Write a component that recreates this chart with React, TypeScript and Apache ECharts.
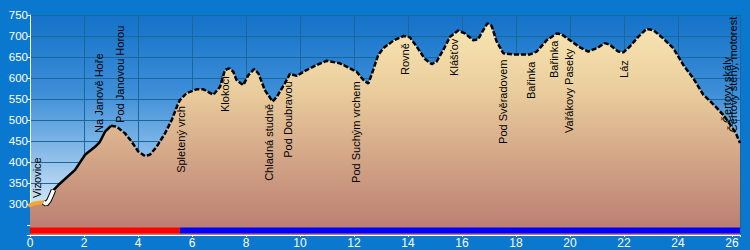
import React, { useEffect, useRef } from "react";
import * as echarts from "echarts";

// Profile: distance (km) and elevation (m)
const profileKm = [
  0, 0.15, 0.35, 0.5, 0.6, 0.7, 0.8, 0.87, 1.05, 1.67, 2.04, 2.41, 2.59, 2.78, 3.0, 3.21, 3.52, 3.77,
  4.01, 4.26, 4.44, 4.69, 5.0, 5.25, 5.49, 5.56, 5.8, 6.17, 6.42, 6.79, 7.04, 7.22, 7.38, 7.53, 7.65,
  7.9, 8.09, 8.3, 8.46, 8.7, 8.99, 9.14, 9.44, 9.63, 9.88, 10.25, 10.62, 10.99, 11.48, 11.85, 12.1,
  12.35, 12.53, 12.65, 12.9, 13.09, 13.46, 13.83, 14.07, 14.32, 14.63, 14.88, 15.06, 15.31, 15.56,
  15.86, 16.11, 16.42, 16.6, 16.79, 16.94, 17.1, 17.28, 17.53, 17.9, 18.52, 18.77, 19.14, 19.51,
  19.69, 20.0, 20.37, 20.68, 20.99, 21.3, 21.48, 21.79, 21.98, 22.22, 22.53, 22.84, 23.09, 23.46,
  23.83, 24.2, 24.57, 24.94, 25.19, 25.45, 25.68, 25.93, 26.15, 26.3,
];
const profileElev = [
  297, 301, 303, 304, 300, 308, 322, 333, 345, 381, 417, 436, 448, 472, 486, 484, 468, 448,
  425, 414, 417, 436, 468, 500, 540, 548, 564, 573, 573, 560, 579, 619, 623, 615, 595,
  583, 607, 621, 611, 571, 544, 555, 587, 610, 605, 619, 631, 641, 635, 623, 615,
  595, 587, 607, 655, 671, 689, 700, 697, 675, 645, 633, 639, 667, 698,
  713, 706, 690, 692, 714, 730, 724, 688, 659, 656, 656, 663, 690, 706,
  704, 690, 673, 663, 671, 683, 679, 663, 661, 675, 698, 717, 714, 694,
  671, 631, 599, 560, 545, 528, 512, 490, 468, 445,
];

// Highlighted start segments
const orangeKm = [0, 0.15, 0.35, 0.5];
const orangeElev = [297, 301, 303, 304];
const whiteKm = [0.5, 0.6, 0.7, 0.8, 0.87];
const whiteElev = [304, 300, 308, 322, 333];
const solidEndKm = 3.0;

// Waypoint labels: name, km, elevation where the text starts
const wpNames = [
  "Vizovice", "Na Janově Hoře", "Pod Janovou Horou", "Spletený vrch", "Klokočí",
  "Chladná studně", "Pod Doubravou", "Pod Suchým vrchem", "Rovně", "Klášťov",
  "Pod Svěradovem", "Bařinka", "Bařinka", "Vařákovy Paseky", "Láz",
  "Čertovy skály", "Čertovy stěny, motorest",
];
const wpKm = [
  0.26, 2.56, 3.33, 5.59, 7.22, 8.85, 9.56, 12.07, 13.89, 15.7, 17.52, 18.56, 19.41, 19.96, 22.0,
  25.82, 26.04,
];
const wpElev = [
  314, 469, 493, 374, 519, 355, 410, 350, 607, 605, 443, 550, 600, 469, 600, 493, 471,
];

// Surface strip
const stripElev = 237;
const redRange = [0, 5.55];
const blueRange = [5.55, 26.3];

const xTicks = { min: 0, max: 26.3, interval: 2 };
const yRange = { min: 226, max: 750 };

export default function App() {
  const ref = useRef<HTMLDivElement>(null);
  useEffect(() => {
    document.body.style.margin = "0";
    if (!ref.current) return;
    const chart = echarts.init(ref.current, undefined, { renderer: "svg" });
    const profile = profileKm.map((k, i) => [k, profileElev[i]]);
    const solidPart = profile.filter((p) => p[0] >= 0.8 && p[0] <= solidEndKm);
    const dashedPart = profile.filter((p) => p[0] >= solidEndKm);
    const labels = wpKm.map((k, i) => [k, wpElev[i], wpNames[i]]);
    chart.setOption({
      animation: false,
      backgroundColor: "#0b78d0",
      grid: {
        left: 30,
        right: 10,
        top: 15,
        bottom: 15,
        show: true,
        borderWidth: 0,
        backgroundColor: new echarts.graphic.LinearGradient(0, 0, 0, 1, [
          { offset: 0, color: "#1472c8" },
          { offset: 0.35, color: "#3d8ed8" },
          { offset: 0.65, color: "#8fbfea" },
          { offset: 0.88, color: "#d8e8f6" },
          { offset: 1, color: "#eef5fb" },
        ]),
      },
      xAxis: {
        type: "value",
        min: xTicks.min,
        max: xTicks.max,
        interval: xTicks.interval,
        axisLine: { show: true, lineStyle: { color: "#ffffff", width: 1 } },
        axisTick: { show: true, length: 2, lineStyle: { color: "#ffffff" } },
        axisLabel: {
          color: "#ffffff",
          fontSize: 12,
          fontFamily: "Arial, Liberation Sans",
          margin: 2,
          formatter: (v: number) => (Math.abs(v % 2) < 1e-9 ? String(v) : ""),
        },
        splitLine: { show: true, lineStyle: { color: "#1a689a", width: 1 } },
      },
      yAxis: {
        type: "value",
        min: yRange.min,
        max: yRange.max,
        splitNumber: 10,
        axisLine: { show: true, lineStyle: { color: "#ffffff", width: 1 } },
        axisTick: { show: true, length: 3, lineStyle: { color: "#ffffff" } },
        axisLabel: {
          color: "#ffffff",
          fontSize: 11.5,
          fontFamily: "Arial, Liberation Sans",
          margin: 2,
          formatter: (v: number) => (v >= 300 ? String(v) : ""),
        },
        splitLine: { show: true, lineStyle: { color: "#1a689a", width: 1 } },
      },
      series: [
        {
          type: "line",
          data: profile,
          showSymbol: false,
          symbol: "none",
          lineStyle: { width: 0 },
          areaStyle: {
            opacity: 1,
            color: new echarts.graphic.LinearGradient(0, 0, 0, 1, [
              { offset: 0, color: "#f8e6b2" },
              { offset: 0.3, color: "#ebcf9e" },
              { offset: 0.65, color: "#d2a486" },
              { offset: 1, color: "#b97b70" },
            ]),
          },
          z: 2,
        },
        {
          type: "line",
          data: solidPart,
          showSymbol: false,
          symbol: "none",
          lineStyle: { color: "#000000", width: 2.5 },
          z: 3,
        },
        {
          type: "line",
          data: dashedPart,
          showSymbol: false,
          symbol: "none",
          lineStyle: { color: "#000000", width: 2.5, type: [5, 2] },
          z: 3,
        },
        {
          type: "line",
          data: orangeKm.map((k, i) => [k, orangeElev[i]]),
          showSymbol: false,
          symbol: "none",
          lineStyle: { color: "#f0a830", width: 4, cap: "round" },
          z: 4,
        },
        {
          type: "line",
          data: whiteKm.map((k, i) => [k, whiteElev[i]]),
          showSymbol: false,
          symbol: "none",
          lineStyle: { color: "#000000", width: 5.5 },
          z: 4,
        },
        {
          type: "line",
          data: whiteKm.map((k, i) => [k, whiteElev[i]]),
          showSymbol: false,
          symbol: "none",
          lineStyle: { color: "#ffffff", width: 3.5 },
          z: 5,
        },
        {
          type: "line",
          data: [[redRange[0], stripElev], [redRange[1], stripElev]],
          showSymbol: false,
          symbol: "none",
          lineStyle: { color: "#ff0000", width: 6 },
          z: 6,
        },
        {
          type: "line",
          data: [[blueRange[0], stripElev], [blueRange[1], stripElev]],
          showSymbol: false,
          symbol: "none",
          lineStyle: { color: "#0000ff", width: 6 },
          z: 6,
        },
        {
          type: "custom",
          data: labels,
          z: 7,
          renderItem: (params: any, api: any) => {
            const p = api.coord([api.value(0), api.value(1)]);
            return {
              type: "text",
              x: p[0],
              y: p[1],
              rotation: Math.PI / 2,
              style: {
                text: wpNames[params.dataIndex],
                align: "left",
                verticalAlign: "middle",
                fill: "#000000",
                font: "11px Arial, 'Liberation Sans'",
              },
            };
          },
        },
      ],
    });
    return () => chart.dispose();
  }, []);
  return <div ref={ref} style={{ width: 750, height: 250 }} />;
}
